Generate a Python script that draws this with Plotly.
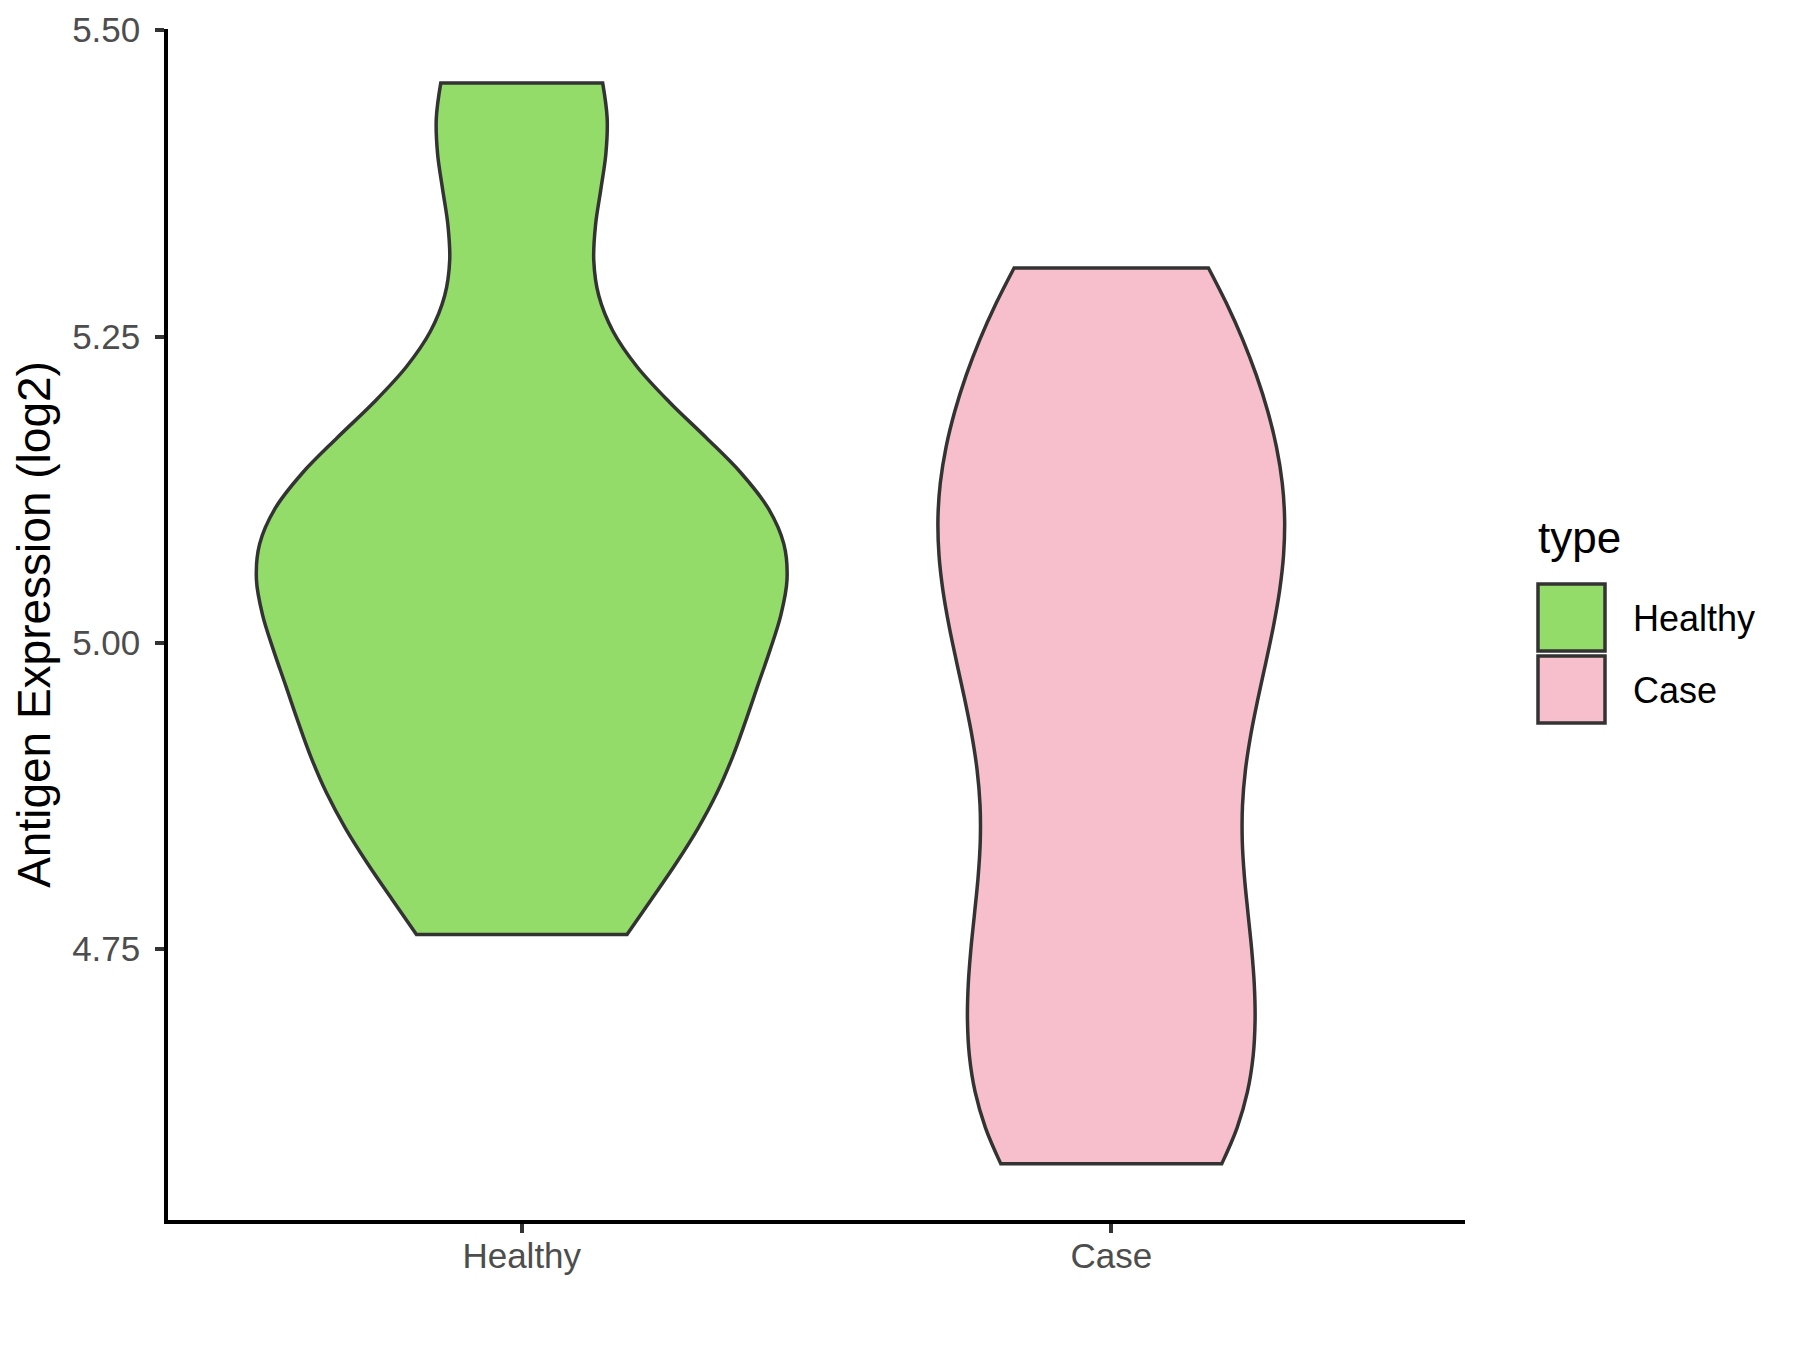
import plotly.graph_objects as go

# ---------------- data ----------------
categories = ["Healthy", "Case"]
healthy_values = [5.457, 5.435, 5.426, 5.287, 5.152, 5.134, 5.125, 5.095,
                  5.089, 5.087, 5.085, 5.034, 5.031, 5.025, 4.941, 4.938,
                  4.897, 4.880, 4.873, 4.872, 4.762, 4.762]
case_values = [5.306, 5.275, 5.196, 5.153, 5.129, 5.067, 5.048, 4.986,
               4.940, 4.882, 4.797, 4.757, 4.705, 4.650, 4.583, 4.575]
y_tick_values = [4.75, 5.00, 5.25, 5.50]
y_tick_labels = ["4.75", "5.00", "5.25", "5.50"]

# ---------------- style ----------------
colors = {"Healthy": "#93DC6A", "Case": "#F7BFCB"}
bandwidths = {"Healthy": 0.09, "Case": 0.09}
widths = {"Healthy": 0.9, "Case": 0.588}
outline = "#333333"
font_family = "Liberation Sans, Arial, sans-serif"

# the page body adds an 8px margin, so the figure is drawn 8px smaller
OFF = 8
W, H = 1800 - OFF, 1350 - OFF
M_L, M_R, M_T, M_B = 160, 335, 21, 130
PW, PH = W - M_L - M_R, H - M_T - M_B


def px_x(x):
    """page pixel x -> paper coordinate"""
    return (x - OFF - M_L) / PW


def px_y(y):
    """page pixel y -> paper coordinate"""
    return (H - M_B - (y - OFF)) / PH


fig = go.Figure()
series = {"Healthy": healthy_values, "Case": case_values}
for cat in categories:
    vals = series[cat]
    fig.add_trace(go.Violin(
        x=[cat] * len(vals),
        y=vals,
        name=cat,
        fillcolor=colors[cat],
        line=dict(color=outline, width=3.5),
        opacity=1,
        points=False,
        box_visible=False,
        meanline_visible=False,
        spanmode="hard",
        bandwidth=bandwidths[cat],
        scalemode="width",
        width=widths[cat],
        showlegend=False,
        hoverinfo="skip",
    ))

# ggplot-style legend drawn as layout decoration
shapes = []
annotations = []
annotations.append(dict(
    x=px_x(1536), y=px_y(537), xref="paper", yref="paper",
    text="type", showarrow=False, xanchor="left", yanchor="middle",
    font=dict(family=font_family, size=44, color="#000000"),
))
key_tops = {"Healthy": 584, "Case": 656}
for cat in categories:
    top = key_tops[cat]
    shapes.append(dict(
        type="rect", xref="paper", yref="paper",
        x0=px_x(1538), x1=px_x(1605), y0=px_y(top + 67), y1=px_y(top),
        fillcolor=colors[cat], line=dict(color=outline, width=3.5),
    ))
    annotations.append(dict(
        x=px_x(1631), y=px_y(top + 34), xref="paper", yref="paper",
        text=cat, showarrow=False, xanchor="left", yanchor="middle",
        font=dict(family=font_family, size=36, color="#000000"),
    ))

fig.update_layout(
    width=W, height=H,
    margin=dict(l=M_L, r=M_R, t=M_T, b=M_B, pad=0, autoexpand=False),
    paper_bgcolor="white",
    plot_bgcolor="white",
    violinmode="overlay",
    showlegend=False,
    font=dict(family=font_family),
    shapes=shapes,
    annotations=annotations,
)

fig.update_xaxes(
    type="category",
    categoryorder="array",
    categoryarray=categories,
    range=[-0.6, 1.6],
    automargin=False,
    showgrid=False,
    zeroline=False,
    showline=True,
    linecolor="#000000",
    linewidth=3.5,
    ticks="outside",
    ticklen=9,
    tickwidth=3.5,
    tickcolor=outline,
    ticklabelstandoff=-7,
    tickfont=dict(family=font_family, size=35, color="#4D4D4D"),
)

fig.update_yaxes(
    range=[4.529, 5.501],
    tickvals=y_tick_values,
    ticktext=y_tick_labels,
    automargin=False,
    showgrid=False,
    zeroline=False,
    showline=True,
    linecolor="#000000",
    linewidth=3.5,
    ticks="outside",
    ticklen=9,
    tickwidth=3.5,
    tickcolor=outline,
    ticklabelstandoff=8,
    ticklabeloverflow="allow",
    tickfont=dict(family=font_family, size=35, color="#4D4D4D"),
    title=dict(text="Antigen Expression (log2)",
               font=dict(family=font_family, size=46, color="#000000"),
               standoff=12),
)

fig.write_html("out.html")
